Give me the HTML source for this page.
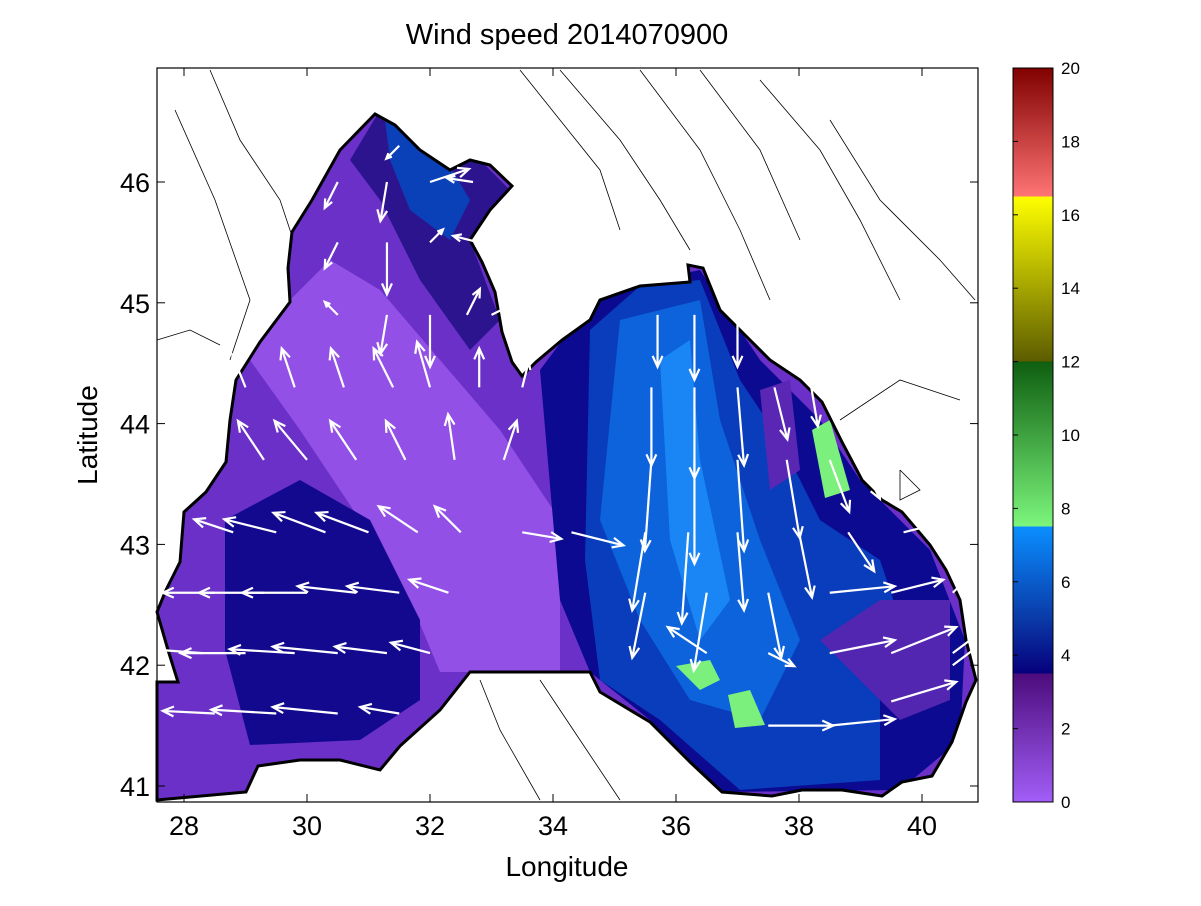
<!DOCTYPE html>
<html><head><meta charset="utf-8"><style>
body{margin:0;background:#fff;}
svg text{font-family:"Liberation Sans",sans-serif;}
</style></head><body>
<svg width="1201" height="901" viewBox="0 0 1201 901">
<defs>
<linearGradient id="cb" x1="0" y1="1" x2="0" y2="0">
<stop offset="0" stop-color="#a25ef7"/><stop offset="0.175" stop-color="#4c0c7c"/>
<stop offset="0.175" stop-color="#06007c"/><stop offset="0.25" stop-color="#0a3aa8"/>
<stop offset="0.375" stop-color="#0a8eff"/><stop offset="0.375" stop-color="#7cf67c"/>
<stop offset="0.6" stop-color="#0e5e10"/><stop offset="0.6" stop-color="#5c5c00"/>
<stop offset="0.825" stop-color="#ffff00"/><stop offset="0.825" stop-color="#ff7474"/>
<stop offset="1" stop-color="#800000"/>
</linearGradient>
<clipPath id="sea"><path id="seapath" d="M375,114 L395,125 L420,150 L450,170 L470,160 L490,165 L512,186 L490,210 L470,240 L482,262 L495,292 L502,332 L512,362 L522,376 L536,362 L562,340 L590,320 L600,300 L640,286 L690,282 L688,265 L703,268 L720,310 L745,335 L770,360 L800,380 L822,402 L842,442 L862,480 L882,500 L902,512 L930,545 L946,570 L960,600 L966,640 L976,680 L966,702 L952,742 L932,776 L902,782 L882,796 L842,790 L802,790 L772,796 L722,792 L690,762 L650,722 L600,692 L590,672 L470,672 L440,710 L400,746 L380,770 L340,760 L300,760 L258,766 L246,792 L157,800 L157,682 L178,682 L168,650 L157,612 L166,590 L180,562 L184,512 L206,492 L226,462 L230,420 L236,380 L260,342 L290,302 L288,268 L292,232 L312,200 L340,150 Z"/></clipPath>
</defs>
<text x="567" y="44" font-size="29" text-anchor="middle">Wind speed 2014070900</text>
<rect x="157" y="68" width="821" height="734" fill="#fff"/>
<g fill="none" stroke="#000" stroke-width="0.8">
<polyline points="210,70 240,140 280,200 300,260"/><polyline points="175,110 215,200 250,300 230,360"/>
<polyline points="520,70 560,120 600,170 620,230"/><polyline points="560,70 620,140 660,200 690,250"/>
<polyline points="640,70 700,150 740,230 770,300"/><polyline points="700,70 760,150 800,240"/>
<polyline points="760,80 820,150 860,220 900,300"/><polyline points="830,120 880,200 940,260 975,300"/>
<polyline points="840,420 900,380 960,400"/><polyline points="900,470 920,490 900,500 900,470"/>
<polyline points="480,680 500,730 540,800"/><polyline points="540,680 580,740 620,800"/>
<polyline points="157,750 200,720 230,700"/><polyline points="157,340 190,330 220,345"/>
</g>
<g clip-path="url(#sea)">
<rect x="157" y="68" width="821" height="734" fill="#6a30c8"/>
<polygon points="290,300 330,260 380,290 440,360 500,430 560,520 560,672 440,672 410,600 360,520 300,430 250,360" fill="#9250e6"/>
<polygon points="225,520 300,480 370,520 420,620 420,700 360,740 250,745 225,650" fill="#12098e"/>
<polygon points="380,110 470,150 510,190 470,240 500,320 470,350 420,280 380,200 350,160" fill="#2d148f"/>
<polygon points="385,120 440,150 470,200 450,240 410,210 390,160" fill="#0a40b8"/>
<polygon points="540,370 600,290 700,270 760,360 820,420 860,480 930,550 965,640 960,740 900,790 720,792 650,720 590,672 560,600" fill="#0b0a90"/>
<polygon points="590,330 640,286 700,280 740,380 780,440 820,520 880,560 900,620 880,700 880,780 740,790 660,720 600,680 585,560" fill="#0a3dbc"/>
<polygon points="620,320 700,300 720,420 760,540 800,640 760,720 690,700 640,620 600,520" fill="#0d63dc"/>
<polygon points="660,360 690,340 700,460 730,600 700,640 670,540" fill="#1a86f6"/>
<polygon points="760,390 790,380 800,470 770,490" fill="#5a26b4"/>
<polygon points="820,640 880,600 950,600 950,700 900,720" fill="#5226b0"/>
<polygon points="812,430 830,420 850,490 825,498" fill="#7cf07c"/>
<polygon points="676,666 710,660 720,680 700,690" fill="#7cf07c"/>
<polygon points="728,695 750,690 765,725 735,728" fill="#7cf07c"/>
</g>
<use href="#seapath" fill="none" stroke="#000" stroke-width="3"/>
<g id="arrows"></g>
<rect x="157" y="68" width="821" height="734" fill="none" stroke="#000" stroke-width="1.2"/>
<g id="axes"></g>
<text x="567" y="876" font-size="28" text-anchor="middle">Longitude</text>
<text x="97" y="435" font-size="28" text-anchor="middle" transform="rotate(-90 97 435)">Latitude</text>
<rect x="1013" y="68" width="40" height="734" fill="url(#cb)" stroke="#000" stroke-width="1"/>
<g id="cbticks"></g>
</svg>
<script>
const xTicks=[28,30,32,34,36,38,40];
const yTicks=[41,42,43,44,45,46];
const cbTicks=[0,2,4,6,8,10,12,14,16,18,20];
const arrowLon=[28.5,29.5,30.5,31.5,37.5,38.5,39.5,40.5, 28.3,29,29.8,30.5,31.3,32,36.5,37.5,38.5,39.5,40.5,41.2, 28.5,29.3,30,30.8,31.5,32.3,35.5,36.5,37.5,38.5,39.5,40.5,41.3, 28.8,29.5,30.3,31,31.8,32.5,33.5,34.3,35.5,36.2,37,38,38.8,39.7,40.5, 28.5,29.3,30,30.8,31.6,32.4,33.2,35.6,36.3,37,37.8,38.5,39, 29,29.8,30.6,31.4,32,32.8,33.5,35.6,36.3,37,37.6,38.2, 29.5,30.5,31.3,32,32.6,33,35.7,36.3,37, 30.5,31.3,32,32.8, 30.5,31.3,32,32.7, 31.5,32.2];
const arrowLat=[41.6,41.6,41.6,41.6,41.5,41.5,41.7,42.0, 42.1,42.1,42.1,42.1,42.1,42.1,42.1,42.1,42.1,42.1,42.1,42.1, 42.6,42.6,42.6,42.6,42.6,42.6,42.6,42.6,42.6,42.6,42.6,42.6,42.6, 43.1,43.1,43.1,43.1,43.1,43.1,43.1,43.1,43.1,43.1,43.1,43.1,43.1,43.1,43.1, 43.7,43.7,43.7,43.7,43.7,43.7,43.7,43.7,43.7,43.7,43.7,43.7,43.7, 44.3,44.3,44.3,44.3,44.3,44.3,44.3,44.3,44.3,44.3,44.3,44.3, 44.9,44.9,44.9,44.9,44.9,44.9,44.9,44.9,44.9, 45.5,45.5,45.5,45.5, 46.0,46.0,46.0,46.0, 46.3,46.3];
const arrowU=[-4,-5,-5,-3,5,5,5,4, -4,-5,-5,-5,-4,-3,-3,2,5,5,4,2, -4,-5,-5,-4.5,-4,-3,-1,-1,1,5,4,3,1, -3,-4,-4,-4,-3,-2,3,4,-1,-0.5,0.5,1,2,4,3, -1,-2,-2.5,-2,-1.5,-0.5,1,-0.5,0,0.5,1,1.5,1.5, -1,-1,-1,-1.5,-1,0,0.5,0,0,0.5,1,0.5, -1,-1,-0.5,0,1,2,0,0,0, -1,0,1,-2, -1,-0.5,3,-2, -1,3];
const arrowV=[0.2,0.3,0.5,0.5,0,0.5,1.5,3, 0.3,0,0.3,0.5,0.5,0.8,2,-1,1,2,3,4, 0,0,0,0.5,0.5,1,-5,-6,-5,0.5,1,3,3, 1,1,1.5,1.5,2,2,-0.5,-1,-6,-7,-6,-5,-3,1,0, 3,3,3,3,3,3.5,3,-7,-8,-7,-6,-4,-3, 2.5,3,3,3,3.5,3,2,-6,-7,-6,-4,-3, 2,1,-3,-4,2,1,-4,-5,-4, -2,-4,1,0.5, -2,-3,1,0.3, -1,0.3];
const X=lon=>184+(lon-28)*61.5, Y=lat=>182+(46-lat)*120.8;
const NS='http://www.w3.org/2000/svg';
const ax=document.getElementById('axes');
function mk(tag,attrs,parent){const e=document.createElementNS(NS,tag);for(const k in attrs)e.setAttribute(k,attrs[k]);parent.appendChild(e);return e;}
xTicks.forEach(t=>{const x=X(t);
 const l=mk('line',{x1:x,y1:802,x2:x,y2:794,stroke:'#000'},ax);
 
 
 const l2=mk('line',{x1:x,y1:68,x2:x,y2:76,stroke:'#000'},ax);
 
 
 const tx=mk('text',{x:x,y:835,'font-size':27,'text-anchor':'middle'},ax);tx.textContent=t;
 
 });
yTicks.forEach(t=>{const y=Y(t);
 const l=mk('line',{x1:157,y1:y,x2:165,y2:y,stroke:'#000'},ax);
 
 
 const l2=mk('line',{x1:978,y1:y,x2:970,y2:y,stroke:'#000'},ax);
 
 
 const tx=mk('text',{x:150,y:y+10,'font-size':27,'text-anchor':'end'},ax);tx.textContent=t;
 
 });
const cb=document.getElementById('cbticks');
cbTicks.forEach(t=>{const y=802-t/20*734;
 const l=mk('line',{x1:1013,y1:y,x2:1018,y2:y,stroke:'#000'},cb);
 
 
 const tx=mk('text',{x:1061,y:y+6,'font-size':17},cb);tx.textContent=t;
 
 });
const ar=document.getElementById('arrows');const S=13;
arrowLon.forEach((lon,i)=>{const x0=X(lon),y0=Y(arrowLat[i]);const dx=arrowU[i]*S,dy=-arrowV[i]*S;
 const x1=x0+dx,y1=y0+dy;const L=Math.hypot(dx,dy)||1;const ux=dx/L,uy=dy/L;const h=Math.min(11,L*0.3);
 const p=mk('path',{d:`M${x0},${y0}L${x1},${y1}M${x1-h*ux+h*0.45*uy},${y1-h*uy-h*0.45*ux}L${x1},${y1}L${x1-h*ux-h*0.45*uy},${y1-h*uy+h*0.45*ux}`,stroke:'#fff','stroke-width':2.2,fill:'none'},ar);
 
 });
</script>
</body></html>
